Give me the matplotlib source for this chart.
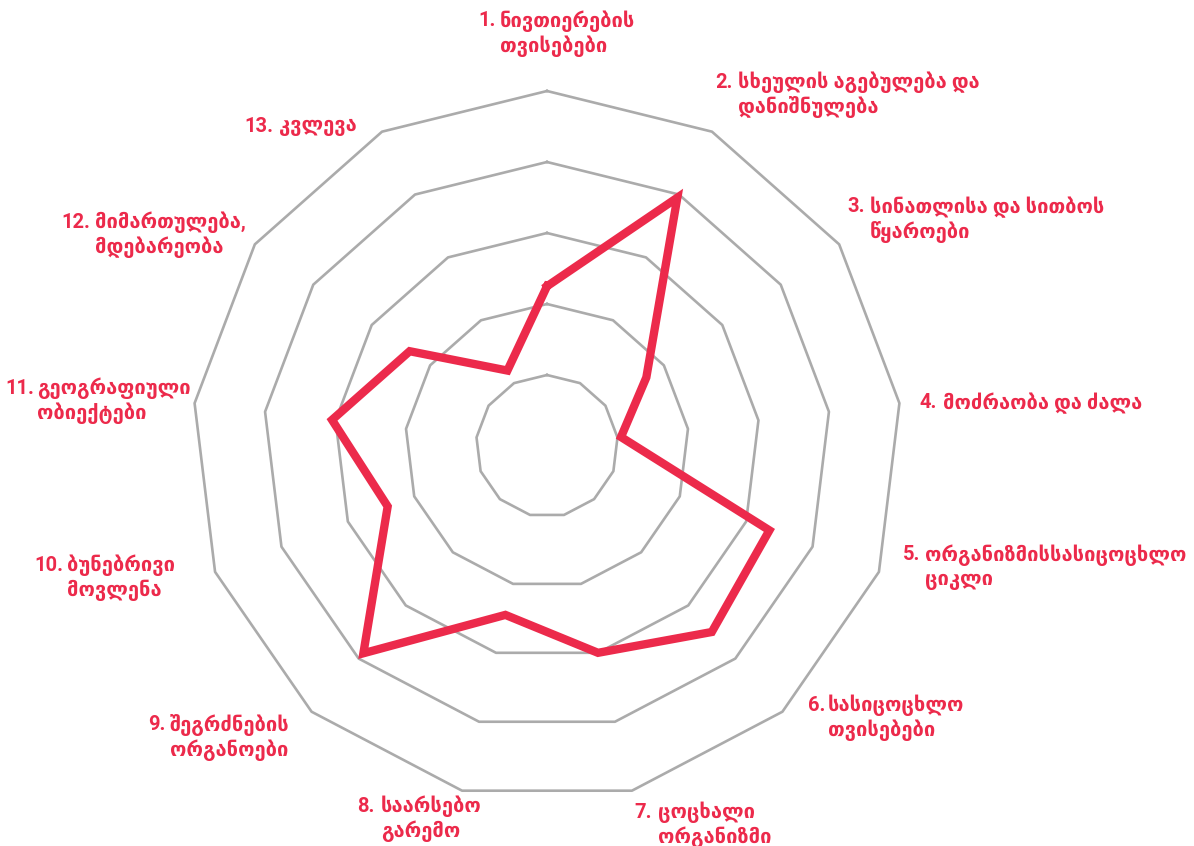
import numpy as np
import matplotlib
matplotlib.use('Agg')
import matplotlib.pyplot as plt

# ── Data ──────────────────────────────────────────────────────────────────────
LABEL_NUMS = ['1.', '2.', '3.', '4.', '5.', '6.', '7.', '8.', '9.', '10.', '11.', '12.', '13.']
LABEL_TEXTS = [
    ['ნივთიერების', 'თვისებები'],
    ['სხეულის აგებულება და', 'დანიშნულება'],
    ['სინათლისა და სითბოს', 'წყაროები'],
    ['მოძრაობა და ძალა'],
    ['ორგანიზმისსასიცოცხლო', 'ციკლი'],
    ['სასიცოცხლო', 'თვისებები'],
    ['ცოცხალი', 'ორგანიზმი'],
    ['საარსებო', 'გარემო'],
    ['შეგრძნების', 'ორგანოები'],
    ['ბუნებრივი', 'მოვლენა'],
    ['გეოგრაფიული', 'ობიექტები'],
    ['მიმართულება,', 'მდებარეობა'],
    ['კვლევა'],
]
VALUES = [45, 79, 34, 21, 67, 70, 60, 49, 78, 48, 61, 47, 24]
RINGS = [20, 40, 60, 80, 100]

# label anchors in pixels: (number x, text x, first line y)
LABEL_POS = [
    (478, 500, 21), (715, 738, 82), (847, 870, 207), (920, 943, 403),
    (903, 925, 555), (808, 828, 705), (634, 658, 812), (357, 381, 806),
    (148, 170, 725), (34, 67, 565), (5, 37, 388), (61, 95, 222), (244, 279, 127),
]

RED = '#EC2A4B'
GRAY = '#ABABAB'
W, H = 1194, 846

fig = plt.figure(figsize=(W / 100, H / 100), dpi=100)
fig.patch.set_facecolor('white')

cx, cy, R = 547, 446, 355
ax = fig.add_axes([(cx - R) / W, (H - cy - R) / H, 2 * R / W, 2 * R / H], projection='polar')
ax.set_theta_offset(np.pi / 2)
ax.set_theta_direction(-1)
ax.set_ylim(0, 100)
ax.grid(False)
ax.set_xticks([])
ax.set_yticks([])
ax.spines['polar'].set_visible(False)
ax.patch.set_visible(False)

n = len(VALUES)
theta = np.arange(n) * 2 * np.pi / n
theta_c = np.append(theta, theta[0])

for r in RINGS:
    ax.plot(theta_c, [r] * (n + 1), color=GRAY, lw=1.9, clip_on=False, zorder=1)

ax.plot(theta_c, VALUES + VALUES[:1], color=RED, lw=6, solid_joinstyle='miter',
        clip_on=False, zorder=3)

# ── Labels ────────────────────────────────────────────────────────────────────
font = dict(color=RED, fontsize=14.5, fontweight='bold', family=['Roboto', 'DejaVu Sans'],
            va='center', ha='left')
for num, lines, (xn, xt, y1) in zip(LABEL_NUMS, LABEL_TEXTS, LABEL_POS):
    fig.text(xn / W, 1 - y1 / H, num, **font)
    for k, line in enumerate(lines):
        fig.text(xt / W, 1 - (y1 + 25 * k) / H, line, **font)

fig.savefig('out.png', dpi=100, facecolor='white')
